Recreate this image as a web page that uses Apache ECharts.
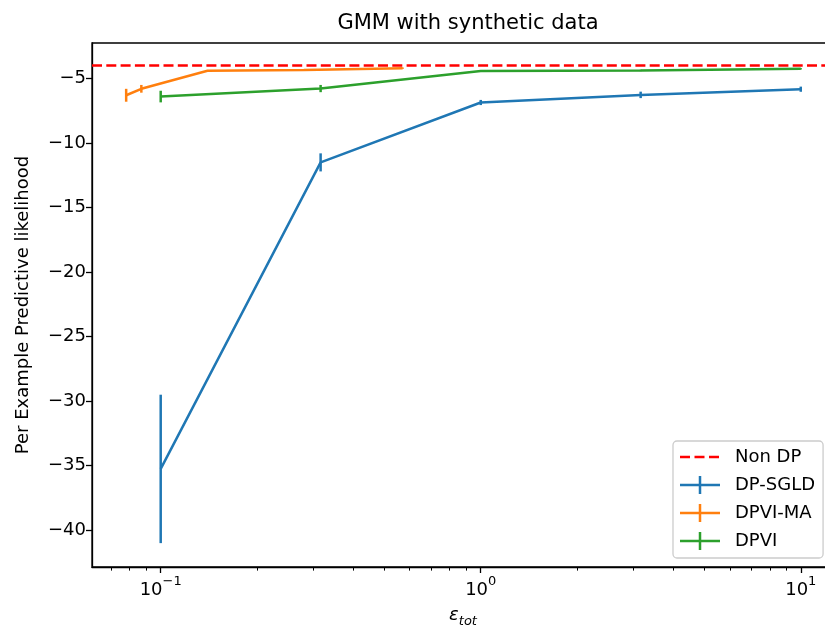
<!DOCTYPE html>
<html>
<head>
<meta charset="utf-8">
<script src="https://cdn.jsdelivr.net/npm/echarts@6/dist/echarts.min.js"></script>
<style>
  html, body { margin: 0; padding: 0; background: #ffffff; }
  #chart { width: 825px; height: 628px; }
</style>
</head>
<body>
<div id="chart"></div>
<script>
// ---- data ----
const epsSGLD  = [0.1, 0.316, 1, 3.16, 10];
const meanSGLD = [-35.25, -11.5, -6.86, -6.27, -5.83];
const errSGLD  = [5.75, 0.7, 0.2, 0.25, 0.2];

const epsMA  = [0.078, 0.087, 0.14, 0.28, 0.57];
const meanMA = [-6.3, -5.8, -4.4, -4.35, -4.2];
const errMA  = [0.5, 0.3, 0.05, 0.05, 0.05];

const epsVI  = [0.1, 0.316, 1, 3.16, 10];
const meanVI = [-6.4, -5.78, -4.42, -4.38, -4.25];
const errVI  = [0.45, 0.28, 0.05, 0.05, 0.05];

const nonDP = -4.0;

const xMajorTicks = [0.1, 1, 10];
const xMinorTicks = [0.07, 0.08, 0.09, 0.2, 0.3, 0.4, 0.5, 0.6, 0.7, 0.8, 0.9,
                     2, 3, 4, 5, 6, 7, 8, 9];
const yTicks = [-40, -35, -30, -25, -20, -15, -10, -5];

const colors = { 'Non DP': '#ff0000', 'DP-SGLD': '#1f77b4', 'DPVI-MA': '#ff7f0e', 'DPVI': '#2ca02c' };

// ---- styling ----
const FONT = 'DejaVu Sans';
const LW = 2.5;

function pairs(xs, ys) { return xs.map((x, i) => [x, ys[i]]); }
function triples(xs, ys, es) { return xs.map((x, i) => [x, ys[i], es[i]]); }

function errSeries(name, xs, ys, es) {
  return {
    name: name,
    type: 'custom',
    coordinateSystem: 'cartesian2d',
    xAxisIndex: 0, yAxisIndex: 0,
    color: colors[name],
    encode: { x: 0, y: 1 },
    data: triples(xs, ys, es),
    renderItem: function (params, api) {
      const x = api.value(0), y = api.value(1), e = api.value(2);
      const p1 = api.coord([x, y + e]);
      const p2 = api.coord([x, y - e]);
      return {
        type: 'line',
        shape: { x1: p1[0], y1: p1[1], x2: p2[0], y2: p2[1] },
        style: { stroke: colors[name], lineWidth: LW }
      };
    },
    z: 3
  };
}
function lineSeries(name, xs, ys) {
  return {
    name: name,
    type: 'line',
    xAxisIndex: 0, yAxisIndex: 0,
    color: colors[name],
    data: pairs(xs, ys),
    symbol: 'none',
    showSymbol: false,
    lineStyle: { color: colors[name], width: LW },
    z: 3
  };
}

const cornerPts = 'M0,0h0.01v0.01h-0.01z M39.99,17.99h0.01v0.01h-0.01z ';
const errIcon = 'path://' + cornerPts + 'M0,7.75h40v2.5h-40z M18.75,0h2.5v18h-2.5z';
const dashIcon = 'path://' + cornerPts + 'M0,7.75h10v2.5h-10z M14.5,7.75h10v2.5h-10z M29,7.75h10v2.5h-10z';

const option = {
  animation: false,
  backgroundColor: '#ffffff',
  textStyle: { fontFamily: FONT, color: '#000000' },
  title: {
    text: 'GMM with synthetic data',
    left: 463, top: 8,
    textAlign: 'center',
    textStyle: { fontFamily: FONT, fontSize: 21, fontWeight: 'normal', color: '#000000' }
  },
  legend: {
    orient: 'vertical',
    left: 673, top: 441,
    padding: [7, 8, 8, 7],
    itemGap: 10,
    itemWidth: 40, itemHeight: 18,
    backgroundColor: 'rgba(255,255,255,0.8)',
    borderColor: '#cccccc', borderWidth: 1.3, borderRadius: 4,
    itemStyle: { borderWidth: 0 },
    textStyle: { fontFamily: FONT, fontSize: 18, color: '#000000', padding: [0, 0, 0, 10] },
    selectedMode: false,
    data: [
      { name: 'Non DP', icon: dashIcon },
      { name: 'DP-SGLD', icon: errIcon },
      { name: 'DPVI-MA', icon: errIcon },
      { name: 'DPVI', icon: errIcon }
    ]
  },
  grid: {
    left: 92, top: 43, width: 742, height: 524,
    outerBoundsMode: 'none',
    containLabel: false,
    show: true, borderColor: '#000000', borderWidth: 1.3, backgroundColor: 'transparent'
  },
  xAxis: [
    {
      type: 'log', logBase: 10, min: 0.061, max: 12.7,
      position: 'bottom',
      name: '{e|ε}{t|tot}',
      nameLocation: 'middle', nameGap: 35,
      nameTextStyle: {
        rich: {
          e: { fontFamily: FONT, fontSize: 18, fontStyle: 'italic', color: '#000', verticalAlign: 'bottom', lineHeight: 22 },
          t: { fontFamily: FONT, fontSize: 13, fontStyle: 'italic', color: '#000', verticalAlign: 'bottom', lineHeight: 15, padding: [0, 0, -4, 0] }
        }
      },
      axisLine: { show: true, lineStyle: { color: '#000', width: 1.3 } },
      axisTick: { show: true, length: 6, lineStyle: { color: '#000', width: 1.3 }, customValues: xMajorTicks },
      axisLabel: {
        show: true, margin: 8,
        customValues: xMajorTicks,
        formatter: function (v) {
          const e = Math.round(Math.log10(v));
          return '{b|10}{s|' + (e < 0 ? '\u2212' : '') + Math.abs(e) + '}';
        },
        rich: {
          b: { fontFamily: FONT, fontSize: 18, color: '#000', lineHeight: 24, verticalAlign: 'bottom' },
          s: { fontFamily: FONT, fontSize: 13, color: '#000', lineHeight: 14, verticalAlign: 'top' }
        }
      },
      splitLine: { show: false },
      minorTick: { show: false }
    },
    {
      type: 'log', logBase: 10, min: 0.061, max: 12.7,
      position: 'bottom',
      axisLine: { show: false },
      axisTick: { show: true, length: 3.6, lineStyle: { color: '#000', width: 1 }, customValues: xMinorTicks },
      axisLabel: { show: false },
      splitLine: { show: false }
    }
  ],
  yAxis: {
    type: 'value', min: -42.85, max: -2.25,
    name: 'Per Example Predictive likelihood',
    nameLocation: 'middle', nameGap: 60, nameRotate: 90,
    nameTextStyle: { fontFamily: FONT, fontSize: 18, color: '#000' },
    axisLine: { show: true, lineStyle: { color: '#000', width: 1.3 } },
    axisTick: { show: true, length: 6, lineStyle: { color: '#000', width: 1.3 }, customValues: yTicks },
    axisLabel: {
      show: true, margin: 6, fontFamily: FONT, fontSize: 18, color: '#000',
      customValues: yTicks,
      formatter: function (v) { return String(v).replace('-', '\u2212'); }
    },
    splitLine: { show: false }
  },
  series: [
    {
      name: 'Non DP', type: 'line', color: colors['Non DP'],
      xAxisIndex: 0, yAxisIndex: 0,
      data: [], symbol: 'none',
      lineStyle: { color: colors['Non DP'], width: LW, type: [10, 4.3] },
      markLine: {
        silent: true, symbol: 'none', label: { show: false },
        lineStyle: { color: colors['Non DP'], width: LW, type: [10, 4.3] },
        data: [{ yAxis: nonDP }]
      },
      z: 2
    },
    lineSeries('DP-SGLD', epsSGLD, meanSGLD),
    errSeries('DP-SGLD', epsSGLD, meanSGLD, errSGLD),
    lineSeries('DPVI-MA', epsMA, meanMA),
    errSeries('DPVI-MA', epsMA, meanMA, errMA),
    lineSeries('DPVI', epsVI, meanVI),
    errSeries('DPVI', epsVI, meanVI, errVI)
  ]
};

const chart = echarts.init(document.getElementById('chart'), null, { renderer: 'canvas' });
chart.setOption(option);
</script>
</body>
</html>
